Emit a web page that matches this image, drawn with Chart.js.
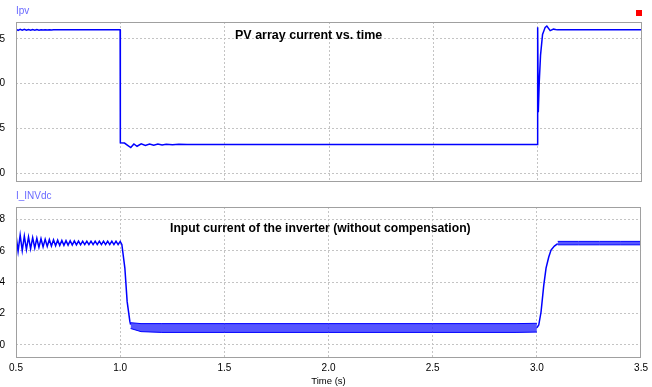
<!DOCTYPE html>
<html>
<head>
<meta charset="utf-8">
<script src="https://cdn.jsdelivr.net/npm/chart.js@4"></script>
<style>
  body { margin: 0; background: #fff; width: 652px; height: 387px; overflow: hidden; position: relative; font-family: "Liberation Sans", Arial, sans-serif; }
  canvas { position: absolute; left: -30px; }
  #topChart { top: 0; }
  #bottomChart { top: 190px; }
  .label { position: absolute; left: 16px; font-size: 10px; line-height: 12px; color: #6a6aff; }
  .note { position: absolute; font-size: 12.5px; line-height: 14px; font-weight: bold; color: #000; white-space: nowrap; }
  .marker { position: absolute; left: 636px; top: 10px; width: 6px; height: 6px; background: #ff0000; }
</style>
</head>
<body>
<canvas id="topChart" width="682" height="199"></canvas>
<canvas id="bottomChart" width="682" height="197"></canvas>
<div class="label" style="top:5px">Ipv</div>
<div class="label" style="top:190px">I_INVdc</div>
<div class="marker"></div>
<div class="note" style="left:235px; top:28px">PV array current vs. time</div>
<div class="note" style="left:170px; top:221px; font-size:12.2px">Input current of the inverter (without compensation)</div>
<script>
{
  'use strict';

  /* Data */
  const timeTicks = [0.5, 1, 1.5, 2, 2.5, 3, 3.5];
  const ipvTicks = [0, 5, 10, 15];
  const invTicks = [0, 2, 4, 6, 8];

  // PV array current (A)
  const ipvTime = [0.5, 0.51, 0.52, 0.53, 0.54, 0.55, 0.56, 0.57, 0.58, 0.59, 0.6, 0.61, 0.62, 0.63, 0.64, 0.65,
    0.66, 0.67, 0.68, 0.7, 0.8, 0.999,
    1.0, 1.02, 1.035, 1.05, 1.065, 1.08, 1.1, 1.12, 1.14, 1.16, 1.18, 1.2, 1.22, 1.25, 1.28, 1.32, 1.4, 2.0, 2.999,
    3.0, 3.003, 3.0076, 3.0138, 3.0234, 3.036, 3.044, 3.06, 3.076, 3.094, 3.2, 3.5];
  const ipvValue = [16.1, 15.97, 16.08, 15.98, 16.07, 15.98, 16.06, 15.99, 16.05, 15.99, 16.05, 15.99, 16.04, 16.0, 16.04, 16.0,
    16.03, 16.0, 16.02, 16.02, 16.02, 16.02,
    3.38, 3.36, 3.1, 2.85, 3.25, 3.0, 3.27, 3.08, 3.25, 3.12, 3.24, 3.15, 3.22, 3.17, 3.21, 3.19, 3.2, 3.2, 3.2,
    16.3, 6.8, 10.2, 13.2, 15.5, 16.3, 16.45, 15.93, 16.1, 16.02, 16.02, 16.02];

  // Inverter input current (A), start-up ripple and fall
  const invTime = [0.5, 0.51, 0.52, 0.53, 0.54, 0.55, 0.56, 0.57, 0.58, 0.59, 0.6, 0.61, 0.62, 0.63, 0.64, 0.65,
    0.66, 0.67, 0.68, 0.69, 0.7, 0.71, 0.72, 0.73, 0.74, 0.75, 0.76, 0.77, 0.78, 0.79, 0.8, 0.81, 0.82, 0.83,
    0.84, 0.85, 0.86, 0.87, 0.88, 0.89, 0.9, 0.91, 0.92, 0.93, 0.94, 0.95, 0.96, 0.97, 0.98, 0.99, 1.0,
    1.008, 1.0225, 1.0335, 1.0465, 1.05];
  const invValue = [7.02, 5.96, 7.0, 6.02, 6.94, 6.08, 6.88, 6.13, 6.84, 6.18, 6.8, 6.22, 6.77, 6.25, 6.74, 6.28,
    6.72, 6.3, 6.7, 6.32, 6.68, 6.34, 6.66, 6.35, 6.65, 6.36, 6.64, 6.37, 6.63, 6.38, 6.62, 6.38, 6.61, 6.39,
    6.61, 6.39, 6.61, 6.39, 6.61, 6.39, 6.61, 6.39, 6.61, 6.39, 6.61, 6.39, 6.61, 6.39, 6.61, 6.39, 6.6,
    6.4, 4.9, 2.76, 1.5, 1.3];

  // ripple band at low irradiance (upper / lower envelope)
  const lowBandTime = [1.05, 1.1, 1.2, 1.5, 2.0, 2.5, 2.9, 3.0];
  const lowBandHigh = [1.42, 1.36, 1.36, 1.36, 1.36, 1.36, 1.36, 1.38];
  const lowBandLow = [1.05, 0.85, 0.8, 0.8, 0.8, 0.8, 0.8, 0.82];

  // recovery after 3 s
  const riseTime = [3.0, 3.009, 3.02, 3.033, 3.044, 3.057, 3.068, 3.084, 3.1];
  const riseValue = [1.1, 1.27, 2.1, 3.8, 4.9, 5.6, 6.05, 6.3, 6.45];

  const highBandTime = [3.1, 3.2, 3.3, 3.4, 3.5];
  const highBandHigh = [6.6, 6.6, 6.6, 6.6, 6.6];
  const highBandLow = [6.38, 6.38, 6.38, 6.38, 6.38];

  /* Helpers */
  function points(xs, ys) {
    return xs.map(function (x, i) { return { x: x, y: ys[i] }; });
  }

  function fixTicks(values) {
    return function (scale) {
      scale.ticks = values.map(function (v) { return { value: v }; });
    };
  }

  // grey frame round the plot area
  const frame = {
    id: 'frame',
    afterDraw(chart) {
      const ctx = chart.ctx;
      const a = chart.chartArea;
      ctx.save();
      ctx.strokeStyle = '#a0a0a0';
      ctx.lineWidth = 1;
      ctx.strokeRect(Math.round(a.left) + 0.5, Math.round(a.top) + 0.5, Math.round(a.width) - 1, Math.round(a.height) - 1);
      ctx.restore();
    }
  };

  const gridColor = function (ctx) {
    const v = ctx.tick ? ctx.tick.value : null;
    return (v === 0.5 || v === 3.5) ? 'rgba(0,0,0,0)' : '#c4c4c4';
  };

  function xScale(showLabels) {
    return {
      type: 'linear',
      min: 0.5,
      max: 3.5,
      afterBuildTicks: fixTicks(timeTicks),
      afterFit: function (s) { s.height = showLabels ? 29 : 9; },
      ticks: {
        display: showLabels,
        autoSkip: false,
        maxRotation: 0,
        padding: 4,
        color: '#000',
        font: { family: 'Liberation Sans', size: 10 }
      },
      title: {
        display: showLabels,
        text: 'Time (s)',
        color: '#000',
        padding: { top: 0, bottom: 0 },
        font: { family: 'Liberation Sans', size: 9.5 }
      },
      grid: { color: gridColor, drawTicks: false, lineWidth: 1 },
      border: { display: false, dash: [2, 2] }
    };
  }

  function yScale(min, max, tickValues) {
    return {
      min: min,
      max: max,
      afterBuildTicks: fixTicks(tickValues),
      afterFit: function (s) { s.width = 46; },
      ticks: {
        padding: 11,
        color: '#000',
        font: { family: 'Liberation Sans', size: 10 }
      },
      grid: { color: '#c4c4c4', drawTicks: false, lineWidth: 1 },
      border: { display: false, dash: [2, 2] }
    };
  }

  const common = {
    responsive: false,
    animation: false,
    plugins: { legend: { display: false }, tooltip: { enabled: false } },
    elements: { point: { radius: 0 }, line: { tension: 0 } }
  };

  /* Top panel: Ipv */
  function initTopChart() {
    const ctx = document.getElementById('topChart').getContext('2d');
    // eslint-disable-next-line no-undef
    new Chart(ctx, {
      type: 'line',
      data: {
        datasets: [{
          data: points(ipvTime, ipvValue),
          borderColor: '#0000ff',
          borderWidth: 1.5
        }]
      },
      options: Object.assign({}, common, {
        layout: { padding: { top: 22, right: 10, left: 0, bottom: 0 } },
        scales: { x: xScale(false), y: yScale(-1, 16.9, ipvTicks) }
      }),
      plugins: [frame]
    });
  }

  /* Bottom panel: I_INVdc */
  function initBottomChart() {
    const ctx = document.getElementById('bottomChart').getContext('2d');
    const blue = '#0000ff';
    const bandFill = 'rgba(30,30,255,0.75)';
    // eslint-disable-next-line no-undef
    new Chart(ctx, {
      type: 'line',
      data: {
        datasets: [
          { data: points(invTime, invValue), borderColor: blue, borderWidth: 1.5 },
          { data: points(lowBandTime, lowBandHigh), borderColor: blue, borderWidth: 1 },
          { data: points(lowBandTime, lowBandLow), borderColor: blue, borderWidth: 1, fill: '-1', backgroundColor: bandFill },
          { data: points(riseTime, riseValue), borderColor: blue, borderWidth: 1.5 },
          { data: points(highBandTime, highBandHigh), borderColor: blue, borderWidth: 1 },
          { data: points(highBandTime, highBandLow), borderColor: blue, borderWidth: 1, fill: '-1', backgroundColor: bandFill }
        ]
      },
      options: Object.assign({}, common, {
        layout: { padding: { top: 17, right: 10, left: 0, bottom: 0 } },
        scales: { x: xScale(true), y: yScale(-0.83, 8.79, invTicks) }
      }),
      plugins: [frame]
    });
  }

  initTopChart();
  initBottomChart();
}
</script>
</body>
</html>
